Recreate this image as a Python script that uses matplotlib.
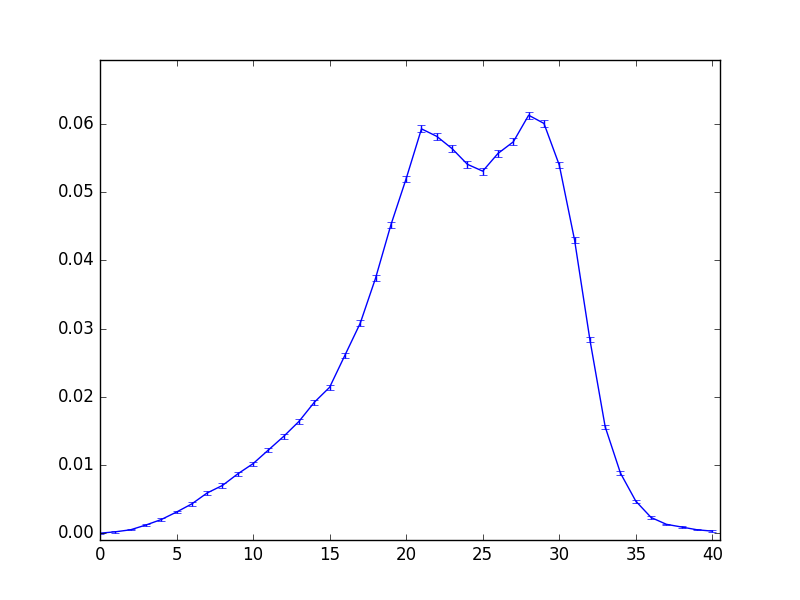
import numpy as np
import matplotlib
matplotlib.use('Agg')
import matplotlib.pyplot as plt

plt.style.use('classic')

# bin index and value
x = list(range(41))
values = [0.0000, 0.0002, 0.0005, 0.0012, 0.0020, 0.0031, 0.0043, 0.0059, 0.0070, 0.0087,
          0.0102, 0.0122, 0.0142, 0.0164, 0.0192, 0.0214, 0.0261, 0.0308, 0.0374, 0.0452,
          0.0520, 0.0593, 0.0582, 0.0564, 0.0541, 0.0531, 0.0557, 0.0574, 0.0613, 0.0601,
          0.0540, 0.0430, 0.0284, 0.0156, 0.0088, 0.0047, 0.0023, 0.0013, 0.0009, 0.0005,
          0.0003]
errors = [0.00005, 0.0001, 0.0001, 0.00015, 0.0002, 0.0002, 0.00025, 0.0003, 0.0003, 0.0003,
          0.0003, 0.00035, 0.00035, 0.00035, 0.0004, 0.0004, 0.0004, 0.0004, 0.0004, 0.00045,
          0.00045, 0.0005, 0.0005, 0.0005, 0.0005, 0.0005, 0.0005, 0.0005, 0.0005, 0.0005,
          0.0005, 0.0004, 0.0004, 0.0003, 0.00025, 0.0002, 0.00015, 0.0001, 0.0001, 0.0001,
          0.0001]

fig = plt.figure(figsize=(8, 6), dpi=100)
ax = fig.add_subplot(111)
ax.errorbar(x, values, yerr=errors, color='b', ecolor='b', capsize=3)
ax.set_xlim(0, 40.5)
ax.set_ylim(-0.001, 0.0694)
ax.set_xticks([0, 5, 10, 15, 20, 25, 30, 35, 40])
ax.set_yticks([0.00, 0.01, 0.02, 0.03, 0.04, 0.05, 0.06])

fig.savefig('out.png', dpi=100)
